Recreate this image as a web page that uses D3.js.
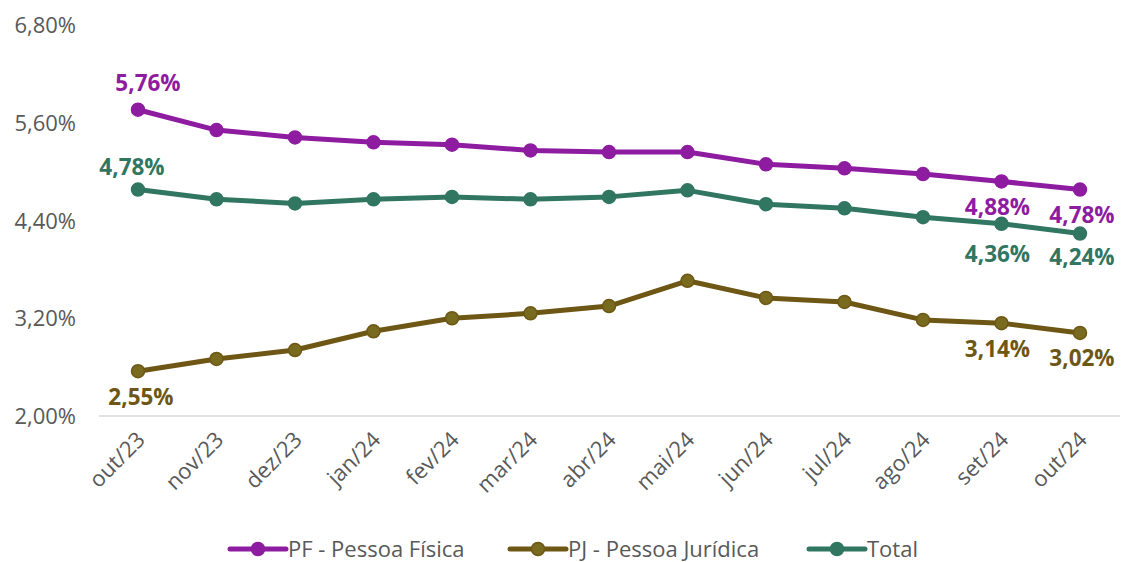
<!DOCTYPE html>
<html>
<head>
<meta charset="utf-8">
<title>Inadimplência PF / PJ / Total</title>
<script src="https://d3js.org/d3.v7.min.js"></script>
<style>
  body { margin: 0; background: #fff; }
  svg text { font-family: "Open Sans", "Noto Sans", sans-serif; }
  .tick text { fill: #595959; font-size: 22px; }
  .lbl { font-weight: bold; font-size: 22.5px; }
  .leg text { fill: #595959; font-size: 22px; }
</style>
</head>
<body>
<script>
const months = ["out/23","nov/23","dez/23","jan/24","fev/24","mar/24","abr/24","mai/24","jun/24","jul/24","ago/24","set/24","out/24"]
const pf    = [5.76, 5.51, 5.42, 5.36, 5.33, 5.26, 5.24, 5.24, 5.09, 5.04, 4.97, 4.88, 4.78]
const pj    = [2.55, 2.70, 2.81, 3.04, 3.20, 3.26, 3.35, 3.66, 3.45, 3.40, 3.18, 3.14, 3.02]
const total = [4.78, 4.66, 4.61, 4.66, 4.69, 4.66, 4.69, 4.77, 4.60, 4.55, 4.44, 4.36, 4.24]
const yTicks = [2.0, 3.2, 4.4, 5.6, 6.8]

const W = 1121, H = 562
const svg = d3.select('body').append('svg').attr('width', W).attr('height', H)

const x = d3.scalePoint().domain(months).range([138, 1080])
const y = d3.scaleLinear().domain([2.0, 6.8]).range([416, 25])
const fmt = v => v.toFixed(2).replace('.', ',') + '%'

// y axis labels (no line)
const yAxis = svg.append('g').attr('transform', 'translate(76,0)')
  .call(d3.axisLeft(y).tickValues(yTicks).tickFormat(fmt).tickSize(0).tickPadding(0))
yAxis.attr('font-family', null)
yAxis.select('.domain').remove()
yAxis.selectAll('text').attr('dy', '0.35em')

// x axis baseline
svg.append('line').attr('x1', 99).attr('x2', 1120).attr('y1', y(2.0)).attr('y2', y(2.0))
  .attr('stroke', '#d9d9d9').attr('stroke-width', 1.5)

const xAxis = svg.append('g').attr('transform', 'translate(0,' + y(2.0) + ')')
  .call(d3.axisBottom(x).tickSize(0).tickPadding(0))
xAxis.attr('font-family', null)
xAxis.select('.domain').remove()
xAxis.selectAll('text')
  .attr('text-anchor', 'end')
  .attr('dy', 0)
  .attr('transform', 'translate(8,25) rotate(-45)')

const series = [
  { name: 'PF - Pessoa Física', vals: pf, color: '#8e1ca0', fill: '#8e1ca0',
    labels: [[0, 10, -27], [11, -4, 26], [12, 2, 26]] },
  { name: 'PJ - Pessoa Jurídica', vals: pj, color: '#6e5714', fill: '#786a1f',
    labels: [[0, 3, 26], [11, -4, 26], [12, 2, 25]] },
  { name: 'Total', vals: total, color: '#317661', fill: '#317661',
    labels: [[0, -6, -22], [11, -4, 30], [12, 2, 24]] }
]

const line = d3.line().x((d, i) => x(months[i])).y(d => y(d))

series.forEach(s => {
  svg.append('path').datum(s.vals)
    .attr('d', line).attr('fill', 'none')
    .attr('stroke', s.color).attr('stroke-width', 5).attr('stroke-linejoin', 'round')
  svg.selectAll(null).data(s.vals).enter().append('circle')
    .attr('cx', (d, i) => x(months[i])).attr('cy', d => y(d)).attr('r', 6.5)
    .attr('fill', s.fill).attr('stroke', s.color).attr('stroke-width', 1.5)
  s.labels.forEach(([i, dx, dy]) => {
    svg.append('text').attr('class', 'lbl')
      .attr('x', x(months[i]) + dx).attr('y', y(s.vals[i]) + dy)
      .attr('dy', '0.35em').attr('text-anchor', 'middle')
      .attr('fill', s.color).text(fmt(s.vals[i]))
  })
})

// legend
const legX = [230, 510, 809]
series.forEach((s, k) => {
  const g = svg.append('g').attr('class', 'leg').attr('transform', 'translate(' + legX[k] + ',549)')
  g.append('line').attr('x1', 0).attr('x2', 56).attr('stroke', s.color).attr('stroke-width', 5).attr('stroke-linecap', 'round')
  g.append('circle').attr('cx', 28).attr('r', 6.5).attr('fill', s.fill).attr('stroke', s.color).attr('stroke-width', 1.5)
  g.append('text').attr('x', 58).attr('dy', '0.35em').text(s.name)
})
</script>
</body>
</html>
